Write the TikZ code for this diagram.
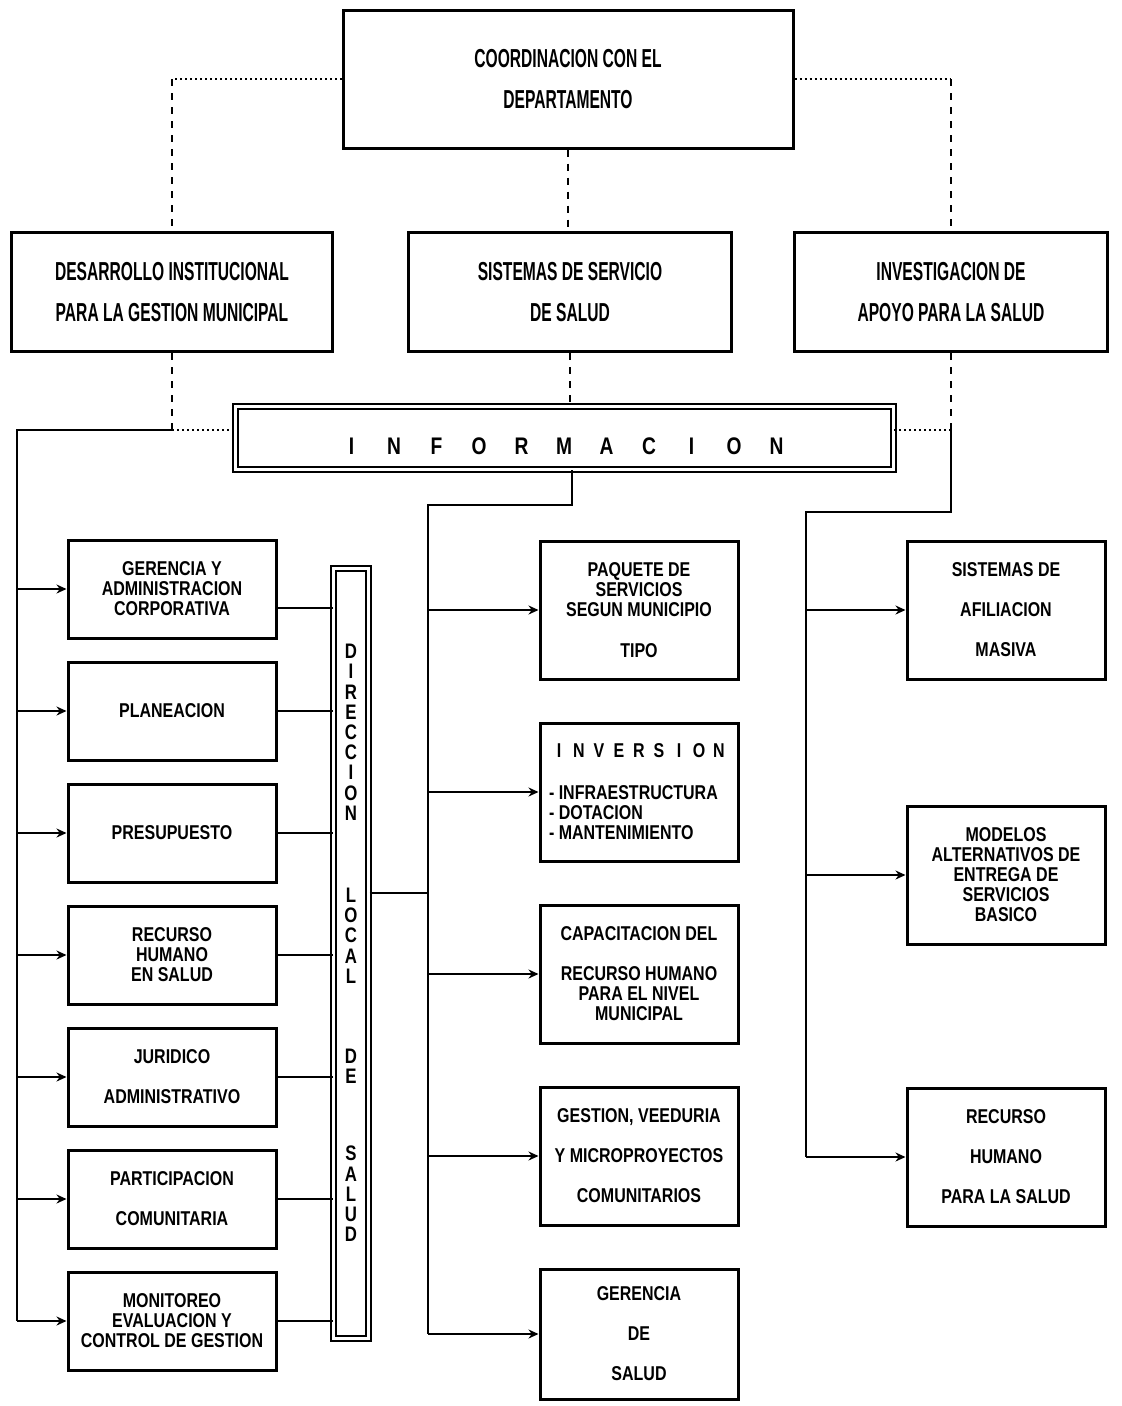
\documentclass[tikz,border=0pt]{standalone}
\usepackage{fontspec}
\usepackage{tikz}
\usetikzlibrary{arrows.meta, positioning}
\newfontfamily\tallfont[FakeStretch=0.6]{Liberation Sans}
\newfontfamily\boxfont[FakeStretch=0.8]{Liberation Sans}
\newcommand{\spacedtext}[2]{\foreach \ch in {#2}{\makebox[#1]{\ch}}}

\begin{document}
\begin{tikzpicture}[
    x=1pt, y=-1pt,
    node distance=21pt,
    topbox/.style={
        rectangle, draw, line width=3pt,
        align=center, font=\tallfont\bfseries\fontsize{26}{41}\selectfont
    },
    unit/.style={
        rectangle, draw, line width=3pt,
        minimum width=208pt, minimum height=98pt,
        align=center, font=\boxfont\bfseries\fontsize{20}{20}\selectfont
    },
    airy/.style={font=\boxfont\bfseries\fontsize{20}{40}\selectfont},
    prog/.style={unit, minimum width=198pt, minimum height=138pt},
    bar/.style={rectangle, draw, double, double distance=3pt, line width=2pt, inner sep=0pt},
    conn/.style={line width=2pt},
    arr/.style={-{Stealth[length=10pt, width=9pt]}, line width=2pt},
    dashline/.style={line width=1.4pt, dash pattern=on 7pt off 7pt},
    dotline/.style={line width=1.4pt, dash pattern=on 2pt off 3pt},
]
\useasboundingbox (0,0) rectangle (1122,1406);

\node[topbox, minimum width=450pt, minimum height=138pt] (coord) at (568,79) {COORDINACION CON EL\\DEPARTAMENTO};
\node[topbox, minimum width=321pt, minimum height=119pt] (desa) at (172,292) {DESARROLLO INSTITUCIONAL\\PARA LA GESTION MUNICIPAL};
\node[topbox, minimum width=323pt, minimum height=119pt] (sist) at (570,292) {SISTEMAS DE SERVICIO\\DE SALUD};
\node[topbox, minimum width=313pt, minimum height=119pt] (inve) at (951,292) {INVESTIGACION DE\\APOYO PARA LA SALUD};

\node[bar, minimum width=658pt, minimum height=63pt,
      font=\boxfont\bfseries\fontsize{24}{24}\selectfont] (info) at (564,437.5)
    {\raisebox{-13pt}[8pt][0pt]{\spacedtext{42.5pt}{I,N,F,O,R,M,A,C,I,O,N}}};

% ── Left column ──────
\node[unit] (gere) at (172,589) {GERENCIA Y\\ADMINISTRACION\\CORPORATIVA};
\node[unit, below=of gere] (plan) {PLANEACION};
\node[unit, below=of plan] (pres) {PRESUPUESTO};
\node[unit, below=of pres] (rrhh) {RECURSO\\HUMANO\\EN SALUD};
\node[unit, airy, below=of rrhh] (juri) {JURIDICO\\ADMINISTRATIVO};
\node[unit, airy, below=of juri] (part) {PARTICIPACION\\COMUNITARIA};
\node[unit, below=of part] (moni) {MONITOREO\\EVALUACION Y\\CONTROL DE GESTION};

\node[bar, minimum width=35pt, minimum height=770pt, align=center,
      font=\boxfont\bfseries\fontsize{21}{20.2}\selectfont] (dir) at (351,953.5)
    {D\\I\\R\\E\\C\\C\\I\\O\\N\\[62pt]L\\O\\C\\A\\L\\[60pt]D\\E\\[57pt]S\\A\\L\\U\\D\\[1pt]\mbox{}};

% ── Middle column ──────
\node[prog] (paqu) at (639,610) {PAQUETE DE\\SERVICIOS\\SEGUN MUNICIPIO\\[21pt]TIPO};
\node[prog, align=left, below=41pt of paqu] (invs)
    {\spacedtext{20pt}{I,N,V,E,R,S,I,O,N}\\[22pt]- INFRAESTRUCTURA\\- DOTACION\\- MANTENIMIENTO};
\node[prog, below=41pt of invs] (capa) {CAPACITACION DEL\\[20pt]RECURSO HUMANO\\PARA EL NIVEL\\MUNICIPAL};
\node[prog, airy, below=41pt of capa] (gest) {GESTION, VEEDURIA\\Y MICROPROYECTOS\\COMUNITARIOS};
\node[prog, airy, minimum height=130pt, below=41pt of gest] (gsal) {GERENCIA\\DE\\SALUD};

% ── Right column ──────
\node[prog, airy] (afil) at (1006,610) {SISTEMAS DE\\AFILIACION\\MASIVA};
\node[prog, below=124pt of afil] (mode) {MODELOS\\ALTERNATIVOS DE\\ENTREGA DE\\SERVICIOS\\BASICO};
\node[prog, airy, below=141pt of mode] (rehu) {RECURSO\\HUMANO\\PARA LA SALUD};

% ── Dashed links ──────
\coordinate (cl) at (desa.north |- coord.west);
\coordinate (cr) at (inve.north |- coord.east);
\draw[dotline] (coord.west) -- (cl);
\draw[dashline] (cl) -- (desa.north);
\draw[dotline] (coord.east) -- (cr);
\draw[dashline] (cr) -- (inve.north);
\draw[dashline] (coord.south) -- (coord.south |- sist.north);

\coordinate (il) at (172,430);
\coordinate (ir) at (951,430);
\draw[dashline] (desa.south) -- (il);
\draw[dotline] (il) -- (il -| info.west);
\draw[dashline] (inve.south) -- (ir);
\draw[dotline] (ir) -- (ir -| info.east);
\draw[dashline] (sist.south) -- (sist.south |- info.north);

% ── Left trunk ──────
\coordinate (ltop) at (17,430);
\draw[conn] (il) -- (ltop) -- (ltop |- moni.west);
\draw[arr] (ltop |- gere.west) -- (gere.west);
\draw[arr] (ltop |- plan.west) -- (plan.west);
\draw[arr] (ltop |- pres.west) -- (pres.west);
\draw[arr] (ltop |- rrhh.west) -- (rrhh.west);
\draw[arr] (ltop |- juri.west) -- (juri.west);
\draw[arr] (ltop |- part.west) -- (part.west);
\draw[arr] (ltop |- moni.west) -- (moni.west);

\coordinate (gout) at ([yshift=-19pt]gere.east);
\draw[conn] (gout) -- (gout -| dir.west);
\draw[conn] (plan.east) -- (plan.east -| dir.west);
\draw[conn] (pres.east) -- (pres.east -| dir.west);
\draw[conn] (rrhh.east) -- (rrhh.east -| dir.west);
\draw[conn] (juri.east) -- (juri.east -| dir.west);
\draw[conn] (part.east) -- (part.east -| dir.west);
\draw[conn] (moni.east) -- (moni.east -| dir.west);

% ── Middle trunk ──────
\coordinate (mtop) at ([xshift=8pt]info.south);
\coordinate (mbend) at (428,505);
\draw[conn] (mtop) |- (mbend) -- (mbend |- gsal.west);
\draw[arr] (mbend |- paqu.west) -- (paqu.west);
\draw[arr] (mbend |- invs.west) -- (invs.west);
\draw[arr] (mbend |- capa.west) -- (capa.west);
\draw[arr] (mbend |- gest.west) -- (gest.west);
\draw[arr] (mbend |- gsal.west) -- (gsal.west);
\coordinate (dj) at (351,893);
\draw[conn] (dj -| dir.east) -- (dj -| mbend);

% ── Right trunk ──────
\coordinate (rbend) at (806,512);
\draw[conn] (ir) |- (rbend) -- (rbend |- rehu.west);
\draw[arr] (rbend |- afil.west) -- (afil.west);
\draw[arr] (rbend |- mode.west) -- (mode.west);
\draw[arr] (rbend |- rehu.west) -- (rehu.west);

\end{tikzpicture}
\end{document}
